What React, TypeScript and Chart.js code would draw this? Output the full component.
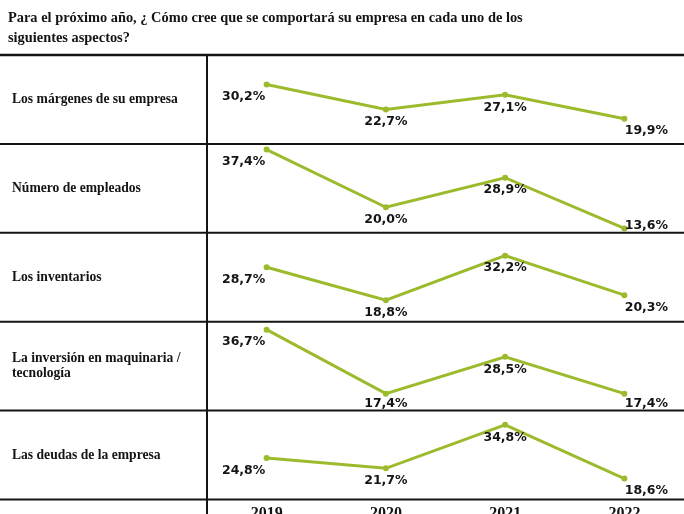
import React, { useEffect, useRef } from 'react';
import { Chart, registerables } from 'chart.js';

Chart.register(...registerables);

const TITLE = [
  'Para el próximo año, ¿ Cómo cree que se comportará su empresa en cada uno de los',
  'siguientes aspectos?',
];
const YEARS = ['2019', '2020', '2021', '2022'];
const ASPECTS = [
  ['Los márgenes de su empresa'],
  ['Número de empleados'],
  ['Los inventarios'],
  ['La inversión en maquinaria /', 'tecnología'],
  ['Las deudas de la empresa'],
];
const MARGENES = [30.2, 22.7, 27.1, 19.9];
const EMPLEADOS = [37.4, 20.0, 28.9, 13.6];
const INVENTARIOS = [28.7, 18.8, 32.2, 20.3];
const INVERSION = [36.7, 17.4, 28.5, 17.4];
const DEUDAS = [24.8, 21.7, 34.8, 18.6];
const SERIES = [MARGENES, EMPLEADOS, INVENTARIOS, INVERSION, DEUDAS];
const Y_MIN = 12.3;
const Y_MAX = 39.1;

const GREEN = '#9cbb2c';
const INK = '#141414';

const fmt = (v: number) => v.toFixed(1).replace('.', ',') + '%';

const panelsPlugin = {
  id: 'panels',
  afterDraw(chart: any) {
    const { ctx, chartArea, width, height } = chart;
    ctx.save();
    // title
    ctx.fillStyle = INK;
    ctx.font = 'bold 14.4px "Liberation Serif"';
    ctx.textAlign = 'left';
    ctx.textBaseline = 'alphabetic';
    ctx.fillText(TITLE[0], 8, 22);
    ctx.fillText(TITLE[1], 8, 42);

    const ids = SERIES.map((_, i) => 'y' + i);
    // horizontal separators
    ctx.strokeStyle = INK;
    ids.forEach((id, i) => {
      const s = chart.scales[id];
      ctx.lineWidth = i === 0 ? 2.5 : 2;
      ctx.beginPath();
      ctx.moveTo(0, s.top);
      ctx.lineTo(width, s.top);
      ctx.stroke();
    });
    const last = chart.scales[ids[ids.length - 1]];
    ctx.lineWidth = 2;
    ctx.beginPath();
    ctx.moveTo(0, last.bottom);
    ctx.lineTo(width, last.bottom);
    ctx.stroke();
    // vertical divider
    ctx.beginPath();
    ctx.moveTo(chartArea.left, chartArea.top);
    ctx.lineTo(chartArea.left, height);
    ctx.stroke();

    // aspect labels
    ctx.font = 'bold 13.6px "Liberation Serif"';
    ctx.textBaseline = 'middle';
    ids.forEach((id, i) => {
      const s = chart.scales[id];
      const mid = (s.top + s.bottom) / 2;
      const lines = ASPECTS[i];
      const lh = 15;
      lines.forEach((t, j) => {
        ctx.fillText(t, 12, mid + (j - (lines.length - 1) / 2) * lh);
      });
    });

    // data labels
    ctx.font = 'bold 12.5px "DejaVu Sans"';
    ctx.textAlign = 'center';
    chart.data.datasets.forEach((ds: any, di: number) => {
      const meta = chart.getDatasetMeta(di);
      const s = chart.scales[ids[di]];
      meta.data.forEach((pt: any, k: number) => {
        const n = meta.data.length;
        const dx = k === 0 ? -23 : k === n - 1 ? 22 : 0;
        const y = Math.min(pt.y + 12.5, s.bottom - 7);
        ctx.fillText(fmt(ds.data[k]), pt.x + dx, y);
      });
    });
    ctx.restore();
  },
};

export default function App() {
  const ref = useRef<HTMLCanvasElement | null>(null);
  useEffect(() => {
    if (!ref.current) return;
    const scales: any = {
      x: {
        type: 'category',
        offset: true,
        grid: { display: false, drawTicks: false },
        border: { display: false },
        ticks: {
          padding: 5,
          color: INK,
          font: { family: 'Liberation Serif', weight: 'bold', size: 16 },
        },
        afterFit: (s: any) => {
          s.height = 14.5;
        },
      },
    };
    SERIES.forEach((_, i) => {
      scales['y' + i] = {
        type: 'linear',
        display: false,
        position: 'left',
        stack: 'panels',
        stackWeight: 1,
        weight: SERIES.length - i,
        min: Y_MIN,
        max: Y_MAX,
      };
    });
    const chart = new Chart(ref.current, {
      type: 'line',
      data: {
        labels: YEARS,
        datasets: SERIES.map((d, i) => ({
          label: ASPECTS[i].join(' '),
          data: d,
          yAxisID: 'y' + i,
          borderColor: GREEN,
          backgroundColor: GREEN,
          borderWidth: 3,
          pointRadius: 3,
          pointBorderWidth: 0,
          pointBackgroundColor: GREEN,
          tension: 0,
          clip: false as any,
        })),
      },
      options: {
        responsive: false,
        animation: false,
        layout: { padding: { left: 207, top: 55, right: 1, bottom: 0 } },
        plugins: { legend: { display: false }, tooltip: { enabled: false }, title: { display: false } },
        scales,
      },
      plugins: [panelsPlugin],
    });
    return () => chart.destroy();
  }, []);
  return (
    <div style={{ position: 'absolute', left: 0, top: 0, width: 684, height: 514, overflow: 'hidden', background: '#fff' }}>
      <canvas ref={ref} width={688} height={514} style={{ display: 'block' }} />
    </div>
  );
}
